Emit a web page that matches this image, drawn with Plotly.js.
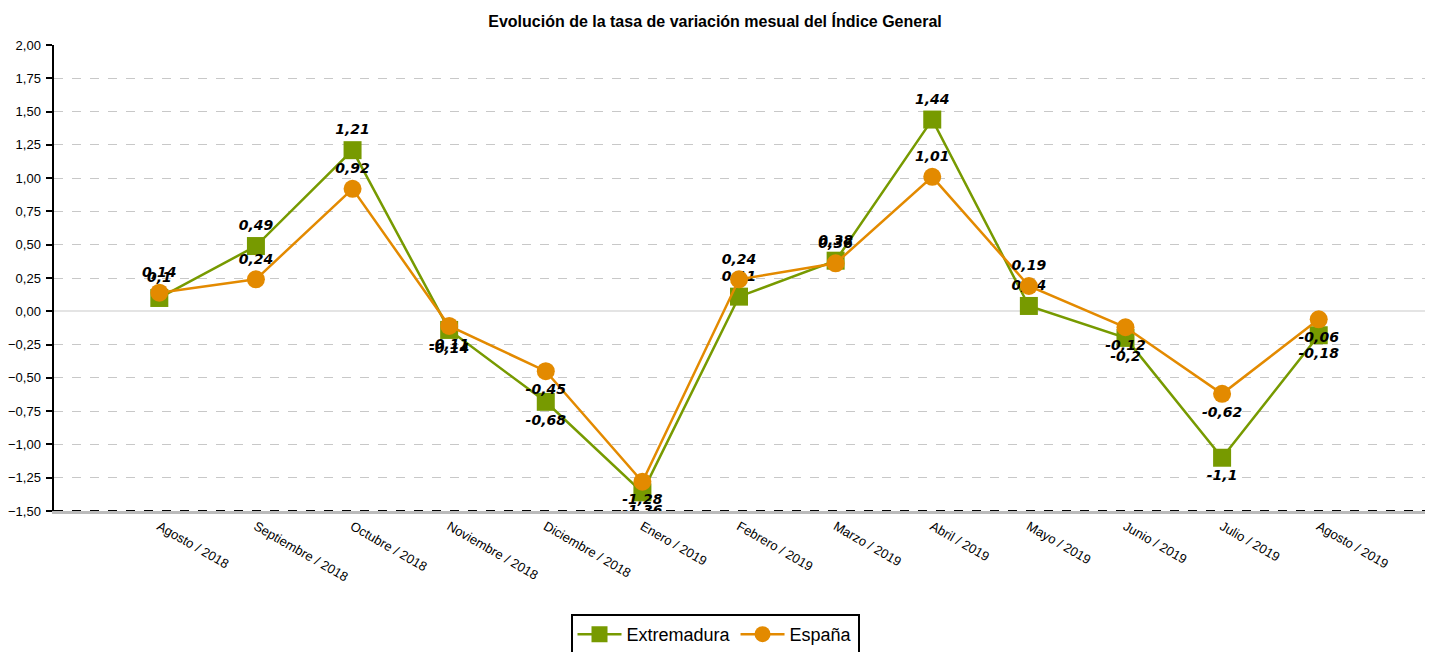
<!DOCTYPE html>
<html>
<head>
<meta charset="utf-8">
<script src="https://cdn.plot.ly/plotly-3.0.1.min.js"></script>
<style>html,body{margin:0;padding:0;background:#fff;}#chart{width:1430px;height:652px;}</style>
</head>
<body>
<div id="chart"></div>
<script>
const categories = ["Agosto / 2018","Septiembre / 2018","Octubre / 2018","Noviembre / 2018","Diciembre / 2018","Enero / 2019","Febrero / 2019","Marzo / 2019","Abril / 2019","Mayo / 2019","Junio / 2019","Julio / 2019","Agosto / 2019"];
const extremadura = [0.1, 0.49, 1.21, -0.14, -0.68, -1.36, 0.11, 0.38, 1.44, 0.04, -0.2, -1.1, -0.18];
const espana = [0.14, 0.24, 0.92, -0.11, -0.45, -1.28, 0.24, 0.36, 1.01, 0.19, -0.12, -0.62, -0.06];
const yTicks = [-1.5, -1.25, -1, -0.75, -0.5, -0.25, 0, 0.25, 0.5, 0.75, 1, 1.25, 1.5, 1.75, 2];

const fmt = v => String(v).replace('.', ',');
const pos = arr => arr.map(v => v >= 0 ? 'top center' : 'bottom center');
const labelFont = {family: 'DejaVu Sans', size: 14, color: '#000', weight: 'bold', style: 'italic'};

const traces = [
  {
    x: categories, y: extremadura, name: 'Extremadura', type: 'scatter', mode: 'lines+markers+text',
    line: {color: '#779a00', width: 2.5},
    marker: {symbol: 'square', size: 18, color: '#779a00'},
    text: extremadura.map(fmt), textposition: pos(extremadura), textfont: labelFont
  },
  {
    x: categories, y: espana, name: 'España', type: 'scatter', mode: 'lines+markers+text',
    line: {color: '#e38a00', width: 2.5},
    marker: {symbol: 'circle', size: 18, color: '#e38a00'},
    text: espana.map(fmt), textposition: pos(espana), textfont: labelFont
  }
];

const layout = {
  width: 1430, height: 652,
  margin: {l: 54, r: 5, t: 45, b: 141, autoexpand: false},
  paper_bgcolor: '#fff', plot_bgcolor: '#fff',
  separators: ',.',
  hovermode: false,
  font: {family: 'Liberation Sans, Arial, sans-serif', size: 12, color: '#000'},
  title: {
    text: 'Evolución de la tasa de variación mesual del Índice General',
    font: {family: 'Liberation Sans, Arial, sans-serif', size: 16, color: '#000', weight: 'bold'},
    x: 0.5, xref: 'container', y: 1 - 21/652, yref: 'container', yanchor: 'middle'
  },
  xaxis: {
    type: 'category', range: [-1.09, 13.1], showgrid: false, zeroline: false,
    showline: true, linecolor: '#bbbbbb', linewidth: 3,
    ticks: '', tickangle: 30, automargin: false,
    tickfont: {family: 'Liberation Sans, Arial, sans-serif', size: 13, color: '#000'}
  },
  yaxis: {
    range: [-1.5, 2.0], tickvals: yTicks, tickformat: '.2f', automargin: false,
    showgrid: true, gridcolor: '#c8c8c8', griddash: 'dash', gridwidth: 1,
    zeroline: true, zerolinecolor: '#e4e4e4', zerolinewidth: 2,
    showline: true, linecolor: '#000', linewidth: 2.5,
    ticks: 'outside', ticklen: 6, tickwidth: 2, tickcolor: '#000', ticklabelstandoff: 2,
    tickfont: {family: 'Liberation Sans, Arial, sans-serif', size: 13, color: '#000'}
  },
  shapes: [{
    type: 'line', xref: 'paper', yref: 'y', x0: 0, x1: 1, y0: -1.5, y1: -1.5,
    line: {color: '#000', width: 2, dash: 'dash'}, layer: 'above'
  }],
  showlegend: true,
  legend: {
    orientation: 'h', x: 0.5, xref: 'container', xanchor: 'center',
    y: 1 - 614/652, yref: 'container', yanchor: 'top',
    bordercolor: '#000', borderwidth: 2, bgcolor: '#fff', itemwidth: 44,
    font: {family: 'Liberation Sans, Arial, sans-serif', size: 18, color: '#000'}
  }
};

Plotly.newPlot('chart', traces, layout, {displayModeBar: false, staticPlot: true});
</script>
</body>
</html>
